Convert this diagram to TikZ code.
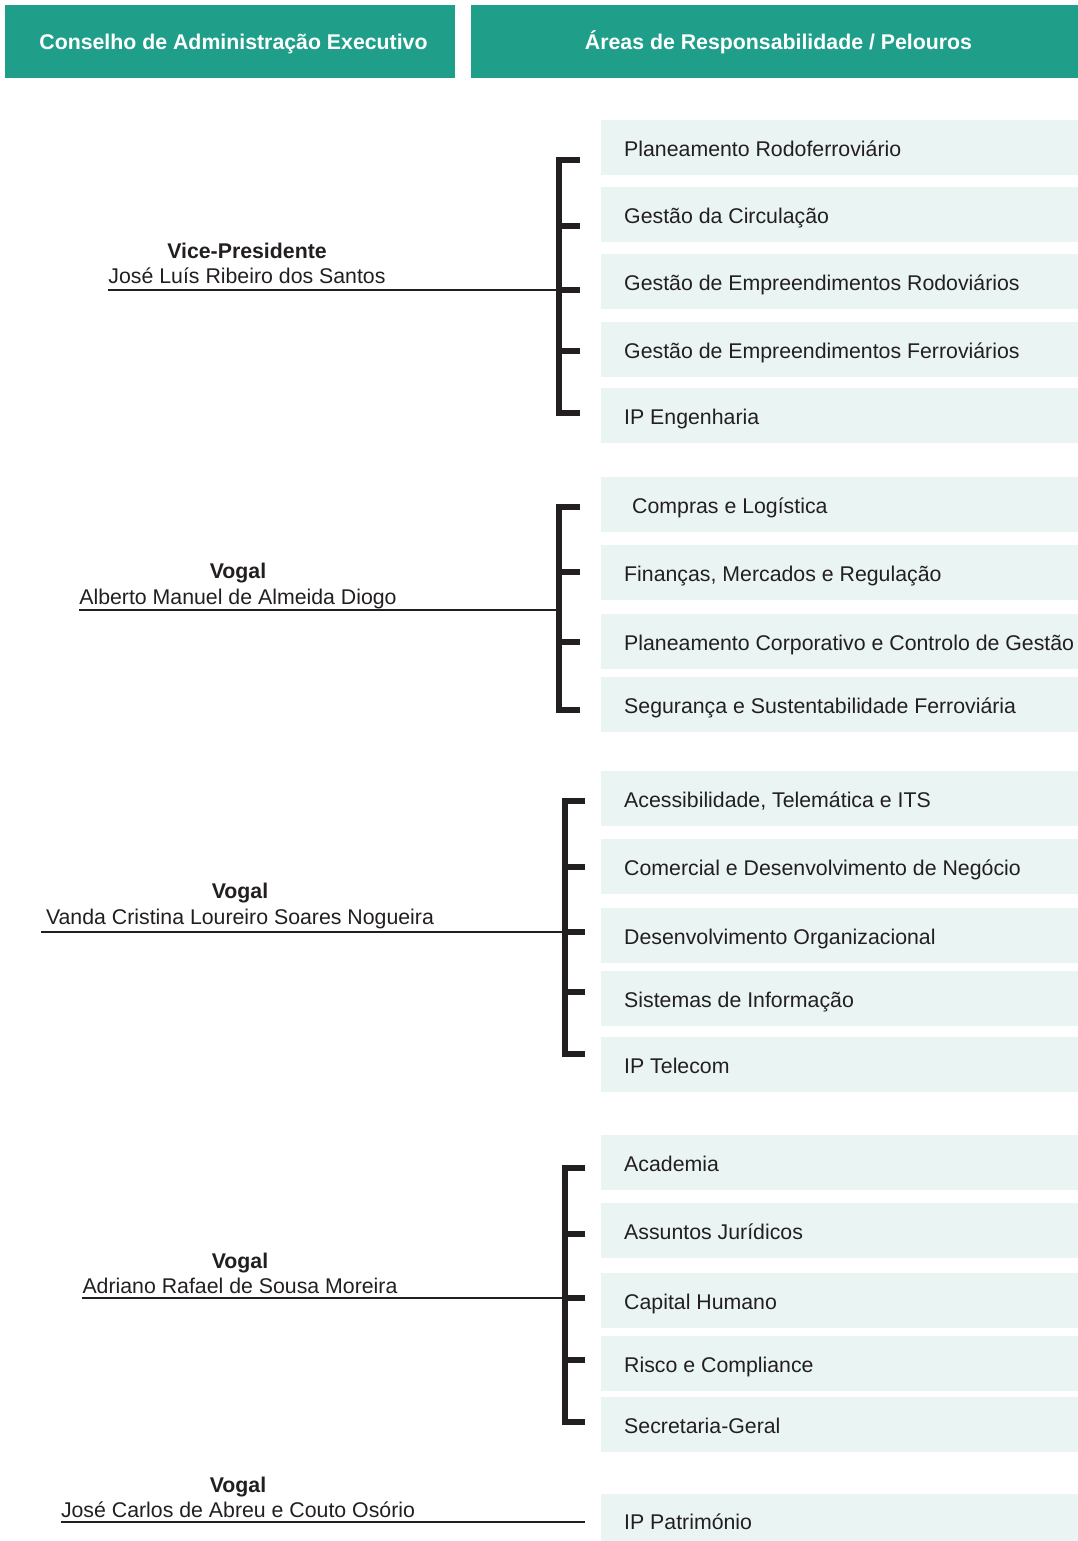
\documentclass[tikz,border=0pt]{standalone}
\usepackage{fontspec}
\setmainfont{Liberation Sans}
\definecolor{teal1}{HTML}{1F9E8A}
\definecolor{boxbg}{HTML}{EAF4F2}
\definecolor{ink}{HTML}{231F20}
\begin{document}
\begin{tikzpicture}[x=1pt,y=-1pt,
  hdr/.style={fill=teal1, draw=none, inner sep=0, anchor=north west},
  hdrtxt/.style={text=white, inner sep=0, font=\fontsize{21.3}{25}\selectfont\bfseries, anchor=base},
  area/.style={fill=boxbg, draw=none, inner sep=0, anchor=north west, minimum width=477, minimum height=55},
  areatxt/.style={text=ink, inner sep=0, font=\fontsize{21.3}{25}\selectfont, anchor=base west},
  ptitle/.style={text=ink, inner sep=0, font=\fontsize{21.3}{25}\selectfont\bfseries, anchor=base},
  pname/.style={text=ink, inner sep=0, font=\fontsize{21.3}{25}\selectfont, anchor=base},
  link/.style={draw=ink, line width=1.9},
  brk/.style={draw=ink, line width=5.5, line join=miter, line cap=butt},
  tick/.style={draw=ink, line width=5.5, line cap=butt}
]
\useasboundingbox (0,0) rectangle (1078,1541);
\fill[white] (0,0) rectangle (1078,1541);

% header
\node[hdr, minimum width=450, minimum height=73] (h1) at (5,5) {};
\node[hdr, minimum width=607, minimum height=73] (h2) at (471,5) {};
\node[hdrtxt] (h1t) at (233.5,49.6) {Conselho de Administração Executivo};
\node[hdrtxt] (h2t) at (778.5,49.6) {Áreas de Responsabilidade / Pelouros};

% area boxes
\foreach \n/\y/\t in {
  a1/120/Planeamento Rodoferroviário,
  a2/187/Gestão da Circulação,
  a3/254/Gestão de Empreendimentos Rodoviários,
  a4/322/Gestão de Empreendimentos Ferroviários,
  a5/388/IP Engenharia,
  b2/545/{Finanças, Mercados e Regulação},
  b3/614/Planeamento Corporativo e Controlo de Gestão,
  b4/677/Segurança e Sustentabilidade Ferroviária,
  c1/771/{Acessibilidade, Telemática e ITS},
  c2/839/Comercial e Desenvolvimento de Negócio,
  c3/908/Desenvolvimento Organizacional,
  c4/971/Sistemas de Informação,
  c5/1037/IP Telecom,
  d1/1135/Academia,
  d2/1203/Assuntos Jurídicos,
  d3/1273/Capital Humano,
  d4/1336/Risco e Compliance,
  d5/1397/Secretaria-Geral}{
  \node[area] (\n) at (601,\y) {};
  \node[areatxt] (\n t) at ([xshift=23,yshift=-8.4]\n.west) {\t};
}
\node[area] (b1) at (601,477) {};
\node[areatxt] (b1t) at ([xshift=31,yshift=-8.4]b1.west) {Compras e Logística};
\node[area, minimum height=47] (e1) at (601,1494) {};
\node[areatxt] (e1t) at (624,1529.4) {IP Património};

% persons
\node[ptitle] (p1t) at (247,258.3) {Vice-Presidente};
\node[pname]  (p1n) at (247,283.3) {José Luís Ribeiro dos Santos};
\node[ptitle] (p2t) at (238,578.3) {Vogal};
\node[pname]  (p2n) at (238,604.3) {Alberto Manuel de Almeida Diogo};
\node[ptitle] (p3t) at (240,898.3) {Vogal};
\node[pname]  (p3n) at (240,924.3) {Vanda Cristina Loureiro Soares Nogueira};
\node[ptitle] (p4t) at (240,1268.3) {Vogal};
\node[pname]  (p4n) at (240,1293.3) {Adriano Rafael de Sousa Moreira};
\node[ptitle] (p5t) at (238,1492.3) {Vogal};
\node[pname]  (p5n) at (238,1517.3) {José Carlos de Abreu e Couto Osório};

% connector coordinates
\coordinate (l1) at (108,290);  \coordinate (k1) at (559,290);
\coordinate (l2) at (79,610);   \coordinate (k2) at (559,610);
\coordinate (l3) at (41,932);   \coordinate (k3) at (565,932);
\coordinate (l4) at (82,1298);  \coordinate (k4) at (565,1298);
\coordinate (l5) at (61,1522);  \coordinate (k5) at (585,1522);

\draw[link] (l1) -- (k1);
\draw[link] (l2) -- (k2);
\draw[link] (l3) -- (k3);
\draw[link] (l4) -- (k4);
\draw[link, line width=2.6] (l5) -- (k5);

% brackets
\draw[brk] (580,160) -- (559,160) -- (559,413) -- (580,413);
\foreach \yy in {226,290,351} \draw[tick] (559,\yy) -- (580,\yy);

\draw[brk] (580,507) -- (559,507) -- (559,710) -- (580,710);
\foreach \yy in {572,642} \draw[tick] (559,\yy) -- (580,\yy);

\draw[brk] (585,801) -- (565,801) -- (565,1054) -- (585,1054);
\foreach \yy in {867,932,992} \draw[tick] (565,\yy) -- (585,\yy);

\draw[brk] (585,1168) -- (565,1168) -- (565,1422) -- (585,1422);
\foreach \yy in {1234,1298,1360} \draw[tick] (565,\yy) -- (585,\yy);
\end{tikzpicture}
\end{document}
